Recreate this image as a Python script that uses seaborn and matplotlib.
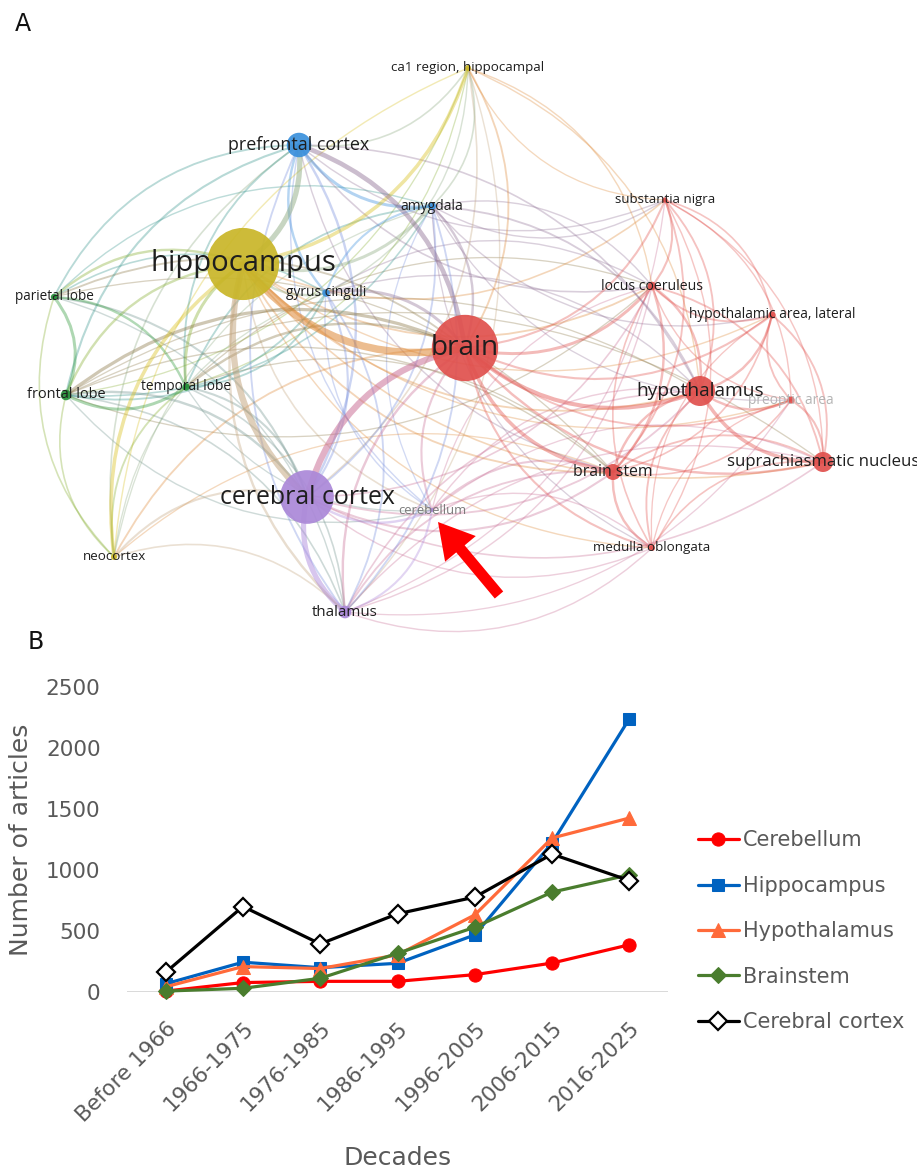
import numpy as np
import pandas as pd
import matplotlib
matplotlib.use("Agg")
import matplotlib.pyplot as plt
import matplotlib.colors as mcolors
from matplotlib.path import Path
from matplotlib.patches import PathPatch, Circle, FancyArrow
import seaborn as sns

# ---------------- Panel A: keyword co-occurrence network ----------------
terms = ["hippocampus", "brain", "cerebral cortex", "hypothalamus", "prefrontal cortex",
         "suprachiasmatic nucleus", "brain stem", "thalamus", "frontal lobe", "locus coeruleus",
         "amygdala", "temporal lobe", "gyrus cinguli", "hypothalamic area, lateral", "preoptic area",
         "parietal lobe", "neocortex", "ca1 region, hippocampal", "medulla oblongata",
         "substantia nigra", "cerebellum"]
keys = ["HC", "BR", "CC", "HT", "PF", "SCN", "BS", "TH", "FL", "LC",
        "AM", "TL", "GC", "LHA", "PO", "PL", "NC", "CA1", "MO", "SN", "CB"]
clusters = [4, 1, 5, 1, 3, 1, 1, 5, 2, 1, 3, 2, 3, 1, 1, 2, 4, 4, 1, 1, 5]
occurrences = [1300, 1100, 720, 225, 150, 100, 64, 40, 28, 18, 16, 14, 14, 13, 13, 10, 9, 9, 9, 7, 4]
layout_x = [243, 465, 307, 700, 299, 823, 613, 345, 66, 652, 432, 186, 326, 772, 791, 54, 114, 468, 652, 665, 432]
layout_y = [264, 348, 497, 391, 145, 462, 472, 612, 395, 286, 206, 387, 293, 315, 400, 297, 557, 68, 548, 200, 510]

links = [
    ("HC", "BR", 6), ("HC", "CC", 5), ("HC", "PF", 4), ("HC", "CA1", 2.5), ("HC", "NC", 2.5),
    ("HC", "TL", 2), ("HC", "AM", 2), ("HC", "GC", 1.5), ("HC", "FL", 1.5), ("HC", "PL", 1.5),
    ("HC", "TH", 1.5), ("HC", "HT", 1), ("HC", "BS", 1), ("HC", "LC", 1), ("HC", "SCN", 0.8),
    ("HC", "CB", 0.8), ("HC", "SN", 0.8), ("HC", "MO", 0.6), ("HC", "LHA", 0.6), ("HC", "PO", 0.6),
    ("BR", "CC", 5), ("BR", "PF", 3.5), ("BR", "HT", 3), ("BR", "BS", 2.5), ("BR", "LC", 2),
    ("BR", "GC", 2), ("BR", "FL", 2.2), ("BR", "TL", 1.5), ("BR", "AM", 1.5), ("BR", "SCN", 1.5),
    ("BR", "TH", 1.5), ("BR", "SN", 1.2), ("BR", "LHA", 1.2), ("BR", "MO", 1.2), ("BR", "CB", 1.2),
    ("BR", "PO", 1), ("BR", "PL", 1), ("BR", "CA1", 1), ("BR", "NC", 1),
    ("CC", "TH", 4), ("CC", "PF", 1.5), ("CC", "FL", 1.5), ("CC", "PL", 1.2), ("CC", "TL", 1.2),
    ("CC", "GC", 1.2), ("CC", "AM", 1), ("CC", "CB", 1.5), ("CC", "NC", 1.2), ("CC", "HT", 1),
    ("CC", "BS", 1.2), ("CC", "SCN", 0.8), ("CC", "LC", 0.8), ("CC", "CA1", 0.8), ("CC", "MO", 0.6),
    ("HT", "SCN", 2.5), ("HT", "LC", 1.5), ("HT", "LHA", 1.5), ("HT", "PO", 1.5), ("HT", "BS", 1.5),
    ("HT", "MO", 1), ("HT", "SN", 1), ("HT", "AM", 1), ("HT", "TH", 0.8), ("HT", "PF", 0.8),
    ("HT", "GC", 0.6), ("HT", "CB", 0.6),
    ("PF", "AM", 2), ("PF", "GC", 1.5), ("PF", "TH", 1), ("PF", "FL", 1.2), ("PF", "PL", 1),
    ("PF", "TL", 1), ("PF", "CA1", 0.8), ("PF", "LC", 0.8), ("PF", "NC", 0.8), ("PF", "SN", 0.6),
    ("PF", "BS", 0.6), ("PF", "CB", 0.6),
    ("SCN", "PO", 1.2), ("SCN", "LHA", 1), ("SCN", "BS", 1), ("SCN", "LC", 1), ("SCN", "MO", 0.8),
    ("SCN", "SN", 0.6), ("SCN", "TH", 0.6), ("SCN", "CB", 0.5),
    ("BS", "MO", 1.5), ("BS", "LC", 1.5), ("BS", "SN", 1), ("BS", "CB", 1.2), ("BS", "TH", 1),
    ("BS", "LHA", 0.8), ("BS", "PO", 0.8),
    ("TH", "CB", 1.2), ("TH", "GC", 1), ("TH", "AM", 1), ("TH", "NC", 0.8), ("TH", "FL", 0.8),
    ("TH", "TL", 0.8), ("TH", "LC", 0.6), ("TH", "MO", 0.6), ("TH", "PL", 0.6), ("TH", "SN", 0.5),
    ("TH", "PO", 0.5), ("TH", "CA1", 0.6),
    ("FL", "TL", 2), ("FL", "PL", 2), ("FL", "GC", 1), ("FL", "NC", 0.8), ("FL", "AM", 0.8),
    ("FL", "CB", 0.6), ("FL", "BS", 0.6), ("FL", "HT", 0.5), ("FL", "SCN", 0.5), ("FL", "LC", 0.5),
    ("FL", "CA1", 0.5),
    ("LC", "SN", 1.2), ("LC", "LHA", 1), ("LC", "MO", 0.8), ("LC", "PO", 0.6), ("LC", "AM", 0.6),
    ("LC", "CB", 0.5), ("LC", "GC", 0.6), ("LC", "TL", 0.5), ("LC", "CA1", 0.6),
    ("AM", "GC", 1.2), ("AM", "CA1", 0.8), ("AM", "LHA", 0.6), ("AM", "CB", 0.5), ("AM", "SN", 0.6),
    ("AM", "PL", 0.6), ("AM", "NC", 0.5), ("AM", "PO", 0.5), ("AM", "MO", 0.5),
    ("TL", "PL", 1.5), ("TL", "NC", 1), ("TL", "AM", 1), ("TL", "GC", 1), ("TL", "CB", 0.5),
    ("TL", "BS", 0.5), ("TL", "CA1", 0.5),
    ("GC", "CA1", 0.6), ("GC", "CB", 0.6), ("GC", "NC", 0.5),
    ("PL", "NC", 0.8), ("PL", "GC", 0.8), ("PL", "BS", 0.5),
    ("LHA", "PO", 1), ("LHA", "SN", 0.8), ("LHA", "MO", 0.5),
    ("PO", "SN", 0.6), ("PO", "MO", 0.5),
    ("CA1", "NC", 0.6), ("CA1", "HT", 0.6), ("CA1", "SN", 0.5),
    ("NC", "BS", 0.5), ("MO", "SN", 0.6), ("MO", "CB", 0.6),
]

# ---------------- Panel B: articles per decade ----------------
decades = ["Before 1966", "1966-1975", "1976-1985", "1986-1995", "1996-2005", "2006-2015", "2016-2025"]
cerebellum = [5, 75, 85, 85, 140, 235, 385]
hippocampus = [65, 242, 197, 233, 466, 1220, 2240]
hypothalamus = [40, 206, 190, 302, 630, 1261, 1425]
brainstem = [5, 28, 110, 315, 529, 817, 959]
cerebral_cortex = [159, 699, 392, 639, 776, 1129, 912]

# ---------------- styling ----------------
cluster_colors = {1: "#e2504c", 2: "#2f9a3a", 3: "#3b8fdd", 4: "#d9c01e", 5: "#ad88dc"}
node_colors = {1: "#e0504d", 2: "#25913a", 3: "#3a90dc", 4: "#c9b628", 5: "#ab88d8"}
faded_labels = {"cerebellum": "#7a7a7a", "preoptic area": "#b4b4b4"}

sns.set_theme(style="white")
plt.rcParams["font.family"] = ["DejaVu Sans"]

W, H = 917, 1172
fig = plt.figure(figsize=(W / 100, H / 100), dpi=100)
fig.patch.set_facecolor("white")

# ---- panel A ----
A_H = 640
axA = fig.add_axes([0, 1 - A_H / H, 1, A_H / H])
axA.set_xlim(0, W)
axA.set_ylim(A_H, 0)
axA.axis("off")

nodes = pd.DataFrame({"term": terms, "key": keys, "cluster": clusters, "occ": occurrences,
                      "x": layout_x, "y": layout_y}).set_index("key")
nodes["radius"] = np.sqrt(nodes["occ"])


def mix(c1, c2):
    a = np.array(mcolors.to_rgb(c1))
    b = np.array(mcolors.to_rgb(c2))
    return tuple((a + b) / 2)


for a, b, w in sorted(links, key=lambda t: t[2]):
    na, nb = nodes.loc[a], nodes.loc[b]
    src, dst = (na, nb) if na["occ"] >= nb["occ"] else (nb, na)
    p0 = np.array([src["x"], src["y"]], float)
    p2 = np.array([dst["x"], dst["y"]], float)
    d = p2 - p0
    L = np.hypot(*d)
    nvec = np.array([-d[1], d[0]]) / L
    ctrl = (p0 + p2) / 2 + 0.3 * L * nvec
    col = mix(cluster_colors[src["cluster"]], cluster_colors[dst["cluster"]])
    alpha = min(0.3 + 0.045 * w, 0.55)
    path = Path([p0, ctrl, p2], [Path.MOVETO, Path.CURVE3, Path.CURVE3])
    axA.add_patch(PathPatch(path, fill=False, edgecolor=col, alpha=alpha,
                            lw=0.55 + 0.8 * w, capstyle="round", zorder=1))

for key, row in nodes.iterrows():
    axA.add_patch(Circle((row["x"], row["y"]), row["radius"],
                         facecolor=node_colors[row["cluster"]], edgecolor="none",
                         alpha=0.92, zorder=3))

for key, row in nodes.iterrows():
    px = 12 + 0.48 * row["radius"]
    axA.text(row["x"], row["y"], row["term"], ha="center", va="center",
             fontsize=px * 0.72, family=["Open Sans", "DejaVu Sans"],
             color=faded_labels.get(row["term"], "#1e1e1e"), zorder=5)

# arrow pointing at the cerebellum node
cb = nodes.loc["CB"]
tip = np.array([cb["x"] + 6, cb["y"] + 12])
tail = tip + np.array([61, 73])
axA.add_patch(FancyArrow(tail[0], tail[1], tip[0] - tail[0], tip[1] - tail[1],
                         width=11, head_width=40, head_length=35,
                         length_includes_head=True, color="#ff0000", lw=0, zorder=6))

fig.text(23 / W, 1 - 24 / H, "A", ha="center", va="center", fontsize=17, color="#111111")
fig.text(36 / W, 1 - 642 / H, "B", ha="center", va="center", fontsize=17, color="#111111")

# ---- panel B ----
axB = fig.add_axes([127 / W, 1 - 991.7 / H, 541 / W, 304.7 / H])
xpos = np.arange(len(decades))
series = [
    ("Cerebellum", cerebellum, dict(color="#ff0000", marker="o", markersize=9.5,
                                    markerfacecolor="#ff0000", markeredgecolor="#ff0000")),
    ("Hippocampus", hippocampus, dict(color="#0062c0", marker="s", markersize=8,
                                      markerfacecolor="#0062c0", markeredgecolor="#0062c0")),
    ("Hypothalamus", hypothalamus, dict(color="#ff6a3a", marker="^", markersize=9.5,
                                        markerfacecolor="#ff6a3a", markeredgecolor="#ff6a3a")),
    ("Brainstem", brainstem, dict(color="#4a7d2e", marker="D", markersize=8.5,
                                  markerfacecolor="#4a7d2e", markeredgecolor="#4a7d2e")),
    ("Cerebral cortex", cerebral_cortex, dict(color="#000000", marker="D", markersize=9.5,
                                              markerfacecolor="white", markeredgecolor="#000000",
                                              markeredgewidth=1.6)),
]
for name, vals, style in series:
    sns.lineplot(x=xpos, y=vals, ax=axB, label=name, linewidth=2.3, clip_on=False, **style)

axB.set_xlim(-0.5, 6.5)
axB.set_ylim(0, 2500)
axB.axhline(0, color="#d9d9d9", lw=1.4, zorder=0)
for s in axB.spines.values():
    s.set_visible(False)
axB.set_facecolor("none")
axB.grid(False)

tick_col = "#595959"
axB.set_yticks([0, 500, 1000, 1500, 2000, 2500])
axB.tick_params(axis="y", length=0, pad=19, labelsize=15.5, labelcolor=tick_col)
axB.set_xticks(xpos)
axB.set_xticklabels(decades, rotation=45, ha="right", va="top", rotation_mode="anchor")
axB.tick_params(axis="x", length=0, pad=19, labelsize=15.5, labelcolor=tick_col)

axB.set_ylabel("Number of articles", fontsize=18, color=tick_col)
axB.yaxis.set_label_coords((33 - 127) / 541, 0.5)
axB.set_xlabel("Decades", fontsize=18, color=tick_col)
axB.xaxis.set_label_coords((398 - 127) / 541, -(1146 - 991.7) / 304.7)

leg = axB.legend(loc="upper left", bbox_to_anchor=(698 / W, 1 - 830.5 / H),
                 bbox_transform=fig.transFigure, frameon=False, fontsize=15,
                 handlelength=1.95, handletextpad=0.2, labelspacing=1.22,
                 borderpad=0, borderaxespad=0)
for t in leg.get_texts():
    t.set_color(tick_col)

fig.savefig("out.png", dpi=100, facecolor="white")
